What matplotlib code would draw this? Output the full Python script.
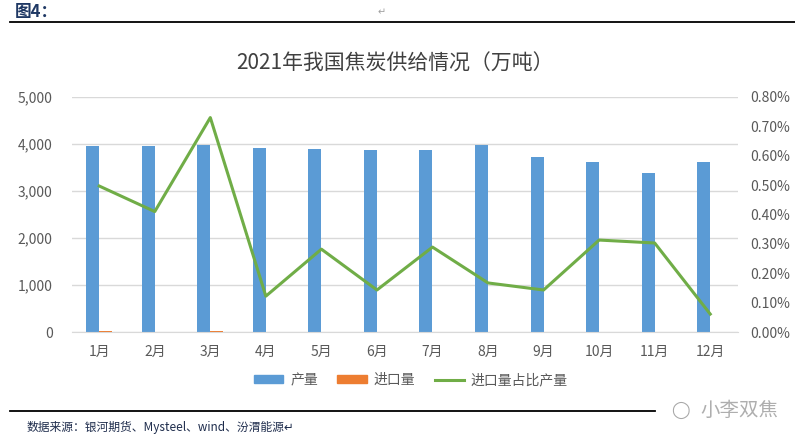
import numpy as np
import matplotlib.pyplot as plt
from matplotlib.ticker import FuncFormatter, MultipleLocator
from matplotlib.lines import Line2D

plt.rcParams['font.family'] = ['Noto Sans CJK SC', 'DejaVu Sans']

months = ["1月", "2月", "3月", "4月", "5月", "6月", "7月", "8月", "9月", "10月", "11月", "12月"]
production = [3957, 3957, 3979, 3915, 3894, 3872, 3872, 3979, 3723, 3617, 3383, 3617]
imports = [19, 4, 29, 3, 3, 3, 3, 3, 3, 3, 3, 2]
ratio = [0.497, 0.41, 0.73, 0.122, 0.282, 0.143, 0.289, 0.167, 0.143, 0.313, 0.303, 0.061]

blue = "#5B9BD5"
orange = "#ED7D31"
green = "#70AD47"
grid_c = "#D9D9D9"
txt = "#595959"

fig = plt.figure(figsize=(7.95, 4.44), dpi=100)
ax = fig.add_axes([72 / 795, 1 - 332 / 444, 666 / 795, 235 / 444])
ax2 = ax.twinx()

x = np.arange(len(months))
w = 0.235
ax.bar(x - w / 2, production, w, color=blue, zorder=2, label="产量")
ax.bar(x + w / 2, imports, w, color=orange, zorder=2, label="进口量")
ax2.plot(x, ratio, color=green, lw=2.2, zorder=3, label="进口量占比产量")

ax.set_xlim(-0.49, 11.5)
ax.set_ylim(0, 5000)
ax2.set_ylim(0, 0.8)
ax.yaxis.set_major_locator(MultipleLocator(1000))
ax2.yaxis.set_major_locator(MultipleLocator(0.1))
ax.yaxis.set_major_formatter(FuncFormatter(lambda v, p: f"{v:,.0f}"))
ax2.yaxis.set_major_formatter(FuncFormatter(lambda v, p: f"{v:.2f}%"))
ax.set_xticks(x)
ax.set_xticklabels(months)

ax.grid(axis="y", color=grid_c, lw=1, zorder=0)
ax.set_axisbelow(True)
for a in (ax, ax2):
    for s in a.spines.values():
        s.set_visible(False)
    a.tick_params(length=0, labelsize=10, colors=txt)
ax.spines["bottom"].set_visible(True)
ax.spines["bottom"].set_color(grid_c)
ax.tick_params(axis="x", pad=9)
ax.tick_params(axis="y", pad=14)
ax2.tick_params(axis="y", pad=9)
ax.set_zorder(ax2.get_zorder() - 1)
ax.patch.set_visible(False)

fig.text(0.497, 1 - 64 / 444, "2021年我国焦炭供给情况（万吨）", ha="center", va="center",
         fontsize=15, color="#404040")

handles = [plt.Rectangle((0, 0), 1, 1, color=blue),
           plt.Rectangle((0, 0), 1, 1, color=orange),
           Line2D([0], [0], color=green, lw=2.2)]
fig.legend(handles, ["产量", "进口量", "进口量占比产量"], loc="center",
           bbox_to_anchor=(0.517, 1 - 380 / 444), ncol=3, frameon=False,
           fontsize=10, handlelength=2.1, handleheight=0.5, handletextpad=0.5,
           columnspacing=1.4, labelcolor=txt)

# page decorations
fig.add_artist(Line2D([10 / 795, 1], [1 - 22 / 444] * 2, color="black", lw=1.3))
fig.text(15 / 795, 1 - 12 / 444, "图4：", ha="left", va="center", fontsize=12,
         fontweight="bold", color="#1F3864")
fig.text(378 / 795, 1 - 12 / 444, "↵", ha="left", va="center", fontsize=7, color="#A0A0A0",
         family=["DejaVu Sans"])
fig.add_artist(Line2D([10 / 795, 655 / 795], [1 - 411 / 444] * 2, color="black", lw=1.3))
fig.text(27 / 795, 1 - 427 / 444, "数据来源：银河期货、Mysteel、wind、汾渭能源↵", ha="left",
         va="center", fontsize=8.5, color="#1F2D4D")
fig.text(700 / 795, 1 - 410 / 444, "小李双焦", ha="left", va="center", fontsize=14,
         color="#9A9A9A", alpha=0.8)
fig.text(680 / 795, 1 - 410 / 444, "◯", ha="center", va="center", fontsize=12,
         color="#A8A8A8", family=["DejaVu Sans"])

fig.savefig("out.png", dpi=100)
